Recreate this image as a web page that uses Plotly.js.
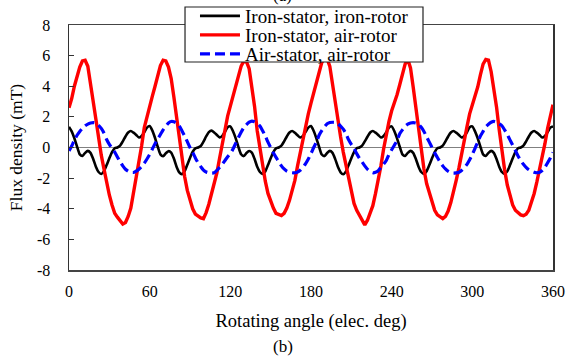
<!DOCTYPE html>
<html>
<head>
<meta charset="utf-8">
<script src="https://cdn.plot.ly/plotly-3.0.1.min.js"></script>
<style>html,body{margin:0;padding:0;background:#fff;}#chart{width:582px;height:360px;}</style>
</head>
<body>
<div id="chart"></div>
<script>
// Rotating angle (elec. deg), sampled every 2 degrees
const angle = [
  0,2,4,6,8,10,12,14,16,18,20,22,24,26,28,30,32,34,36,38,40,42,44,46,48,50,52,54,56,58,
  60,62,64,66,68,70,72,74,76,78,80,82,84,86,88,90,92,94,96,98,100,102,104,106,108,110,112,114,116,118,
  120,122,124,126,128,130,132,134,136,138,140,142,144,146,148,150,152,154,156,158,160,162,164,166,168,170,172,174,176,178,
  180,182,184,186,188,190,192,194,196,198,200,202,204,206,208,210,212,214,216,218,220,222,224,226,228,230,232,234,236,238,
  240,242,244,246,248,250,252,254,256,258,260,262,264,266,268,270,272,274,276,278,280,282,284,286,288,290,292,294,296,298,
  300,302,304,306,308,310,312,314,316,318,320,322,324,326,328,330,332,334,336,338,340,342,344,346,348,350,352,354,356,358,
  360
];

// Iron-stator, iron-rotor (mT)
const ironIron = [
  1.35,1.05,0.6,0.05,-0.45,-0.55,-0.35,-0.22,-0.35,-0.75,-1.25,-1.6,-1.73,-1.55,-1.15,-0.7,-0.3,-0.05,0.0,0.12,0.4,0.72,0.98,1.08,0.97,0.82,0.65,0.75,1.0,1.3,
  1.4,1.1,0.62,0.05,-0.45,-0.57,-0.38,-0.24,-0.33,-0.72,-1.25,-1.62,-1.74,-1.55,-1.12,-0.68,-0.28,-0.06,0.0,0.1,0.38,0.72,1.0,1.1,0.98,0.82,0.66,0.76,1.02,1.32,
  1.38,1.06,0.6,0.04,-0.44,-0.56,-0.36,-0.23,-0.34,-0.74,-1.26,-1.6,-1.72,-1.56,-1.14,-0.7,-0.3,-0.06,0.0,0.12,0.4,0.72,0.98,1.08,0.96,0.8,0.65,0.76,1.02,1.3,
  1.4,1.08,0.6,0.05,-0.46,-0.56,-0.36,-0.22,-0.35,-0.76,-1.26,-1.62,-1.75,-1.56,-1.14,-0.7,-0.3,-0.05,0.0,0.12,0.4,0.7,0.98,1.08,0.97,0.82,0.65,0.75,1.0,1.3,
  1.38,1.06,0.6,0.05,-0.45,-0.55,-0.35,-0.22,-0.35,-0.75,-1.25,-1.6,-1.73,-1.55,-1.15,-0.7,-0.3,-0.05,0.0,0.12,0.4,0.72,0.98,1.08,0.97,0.82,0.65,0.75,1.0,1.32,
  1.38,1.05,0.6,0.05,-0.45,-0.55,-0.35,-0.22,-0.35,-0.75,-1.25,-1.6,-1.72,-1.55,-1.15,-0.7,-0.3,-0.05,0.0,0.12,0.4,0.72,0.98,1.08,0.97,0.82,0.65,0.75,1.0,1.3,
  1.38
];

// Iron-stator, air-rotor (mT)
const ironAir = [
  2.6,3.2,4.0,4.7,5.25,5.65,5.7,5.3,4.3,3.0,1.85,0.6,-0.5,-1.4,-2.3,-3.1,-3.75,-4.3,-4.55,-4.75,-5.0,-4.9,-4.5,-3.95,-3.0,-2.0,-0.95,0.1,1.3,2.05,
  2.7,3.35,4.0,4.7,5.35,5.7,5.65,5.25,4.5,3.3,2.0,0.5,-0.9,-1.9,-2.8,-3.5,-4.0,-4.35,-4.5,-4.6,-4.65,-4.25,-3.7,-3.05,-2.4,-1.65,-0.7,0.3,1.2,2.05,
  2.7,3.35,3.95,4.6,5.3,5.65,5.6,5.15,4.0,2.7,1.1,-0.05,-1.15,-2.2,-3.0,-3.5,-3.95,-4.3,-4.4,-4.45,-4.3,-3.95,-3.45,-2.85,-2.15,-1.2,-0.35,0.55,1.5,2.2,
  2.9,3.6,4.25,5.0,5.55,5.85,5.8,5.3,4.1,3.0,1.9,0.7,-0.3,-1.2,-2.05,-2.9,-3.65,-4.1,-4.4,-4.75,-5.05,-4.75,-4.3,-3.8,-3.0,-2.2,-1.2,-0.1,0.9,1.7,
  2.4,2.85,3.45,4.1,4.85,5.45,5.75,5.2,3.95,2.55,1.1,-0.3,-1.4,-2.35,-2.95,-3.45,-4.1,-4.4,-4.55,-4.65,-4.5,-4.15,-3.6,-2.95,-2.15,-1.35,-0.35,0.6,1.35,2.2,
  2.8,3.35,3.95,4.75,5.45,5.75,5.7,4.95,3.95,2.65,1.15,-0.3,-1.45,-2.45,-3.2,-3.75,-4.1,-4.25,-4.4,-4.45,-4.35,-4.1,-3.6,-3.0,-2.25,-1.45,-0.65,0.25,1.25,2.1,
  2.8
];

// Air-stator, air-rotor (mT)
const airAir = [
  -0.22,0.1,0.48,0.8,1.05,1.25,1.42,1.53,1.6,1.63,1.6,1.45,1.25,0.95,0.52,0.2,-0.05,-0.3,-0.62,-0.93,-1.2,-1.42,-1.55,-1.62,-1.63,-1.55,-1.42,-1.25,-1.02,-0.75,
  -0.45,-0.1,0.25,0.55,0.85,1.15,1.4,1.6,1.7,1.68,1.58,1.42,1.1,0.75,0.38,0.0,-0.32,-0.68,-1.0,-1.25,-1.48,-1.6,-1.65,-1.67,-1.65,-1.5,-1.3,-1.1,-0.85,-0.6,
  -0.4,-0.1,0.28,0.65,1.0,1.3,1.5,1.65,1.72,1.68,1.58,1.4,1.1,0.75,0.35,0.0,-0.35,-0.65,-0.92,-1.2,-1.4,-1.55,-1.62,-1.65,-1.65,-1.6,-1.48,-1.3,-1.05,-0.75,
  -0.4,0.0,0.35,0.8,1.1,1.35,1.55,1.63,1.65,1.63,1.55,1.4,1.2,0.9,0.5,0.2,-0.05,-0.4,-0.7,-0.95,-1.2,-1.42,-1.58,-1.65,-1.62,-1.52,-1.3,-1.08,-0.85,-0.45,
  -0.15,0.15,0.45,0.9,1.15,1.38,1.52,1.6,1.62,1.6,1.52,1.32,1.05,0.7,0.35,0.0,-0.35,-0.65,-0.95,-1.2,-1.4,-1.55,-1.65,-1.67,-1.66,-1.62,-1.5,-1.32,-1.1,-0.8,
  -0.45,-0.05,0.35,0.75,1.05,1.35,1.52,1.65,1.7,1.65,1.55,1.42,1.15,0.85,0.5,0.15,-0.2,-0.55,-0.85,-1.1,-1.3,-1.45,-1.55,-1.62,-1.65,-1.62,-1.5,-1.3,-1.0,-0.68,
  -0.33
];

const seriesNames = ['Iron-stator, iron-rotor', 'Iron-stator, air-rotor', 'Air-stator, air-rotor'];
const xTickVals = [0, 60, 120, 180, 240, 300, 360];
const xTickText = ['0', '60', '120', '180', '240', '300', '360'];
const yTickVals = [-8, -6, -4, -2, 0, 2, 4, 6, 8];
const yTickText = ['-8', '-6', '-4', '-2', '0', '2', '4', '6', '8'];

const FONT = 'Liberation Serif, Times New Roman, serif';

const traces = [
  {x: angle, y: ironIron, name: seriesNames[0], legend: 'legend', type: 'scatter', mode: 'lines',
   line: {color: '#000000', width: 2.6, shape: 'spline', smoothing: 0.6}},
  {x: angle, y: ironAir, name: seriesNames[1], legend: 'legend2', type: 'scatter', mode: 'lines',
   line: {color: '#ff0000', width: 3.4}},
  {x: angle, y: airAir, name: seriesNames[2], legend: 'legend3', type: 'scatter', mode: 'lines',
   line: {color: '#0000ff', width: 3.2, dash: '10px,5px', shape: 'spline', smoothing: 0.6}}
];

// one legend row per series, stacked inside a single framed box
const legendRow = y => ({
  x: 0.2603, y: y, xanchor: 'left', yanchor: 'middle',
  bgcolor: 'rgba(0,0,0,0)', borderwidth: 0,
  font: {family: FONT, size: 19, color: '#000000'},
  itemwidth: 40
});

const layout = {
  width: 582, height: 360,
  margin: {l: 69, r: 29, t: 25, b: 90, pad: 0, autoexpand: false},
  paper_bgcolor: '#ffffff', plot_bgcolor: '#ffffff',
  font: {family: FONT, color: '#000000', size: 16},
  showlegend: true,
  legend: legendRow(1.0367),
  legend2: legendRow(0.9592),
  legend3: legendRow(0.8816),
  shapes: [
    {type: 'rect', xref: 'paper', yref: 'paper', x0: 0.2397, x1: 0.7314, y0: 0.849, y1: 1.0735,
     layer: 'above', fillcolor: '#ffffff', line: {color: '#222222', width: 1.2}}
  ],
  xaxis: {
    range: [0, 360], tickvals: xTickVals, ticktext: xTickText,
    ticks: '', showline: true, linecolor: '#444444', linewidth: 1.5, mirror: true,
    showgrid: false, zeroline: false,
    tickfont: {family: FONT, size: 16, color: '#000000'}, ticklabelstandoff: 6,
    title: {text: 'Rotating angle (elec. deg)', font: {family: FONT, size: 18.5, color: '#000000'}, standoff: 15}
  },
  xaxis2: {
    overlaying: 'x', anchor: 'free', position: 0.5, range: [0, 360],
    tickvals: xTickVals, ticks: 'inside', ticklen: 5, tickwidth: 1.2, tickcolor: '#555555',
    showticklabels: false, showline: false, showgrid: false, zeroline: false
  },
  yaxis: {
    range: [-8, 8], tickvals: yTickVals, ticktext: yTickText,
    ticks: 'inside', ticklen: 5, tickwidth: 1.2, tickcolor: '#333333',
    showline: true, linecolor: '#333333', linewidth: 1.5, mirror: true,
    showgrid: false, zeroline: true, zerolinecolor: '#808080', zerolinewidth: 1.5,
    tickfont: {family: FONT, size: 16, color: '#000000'}, ticklabelstandoff: 14,
    title: {text: 'Flux density (mT)', font: {family: FONT, size: 17.5, color: '#000000'}, standoff: 10}
  },
  annotations: [
    {text: '(a)', xref: 'paper', yref: 'paper', x: 0.442, y: 1.0735, xanchor: 'center', yanchor: 'bottom',
     showarrow: false, font: {family: FONT, size: 17, color: '#000000'}},
    {text: '(b)', xref: 'paper', yref: 'paper', x: 0.442, y: -0.314, xanchor: 'center', yanchor: 'middle',
     showarrow: false, font: {family: FONT, size: 17, color: '#000000'}}
  ]
};

Plotly.newPlot('chart', traces, layout, {staticPlot: true, displayModeBar: false});
</script>
</body>
</html>
